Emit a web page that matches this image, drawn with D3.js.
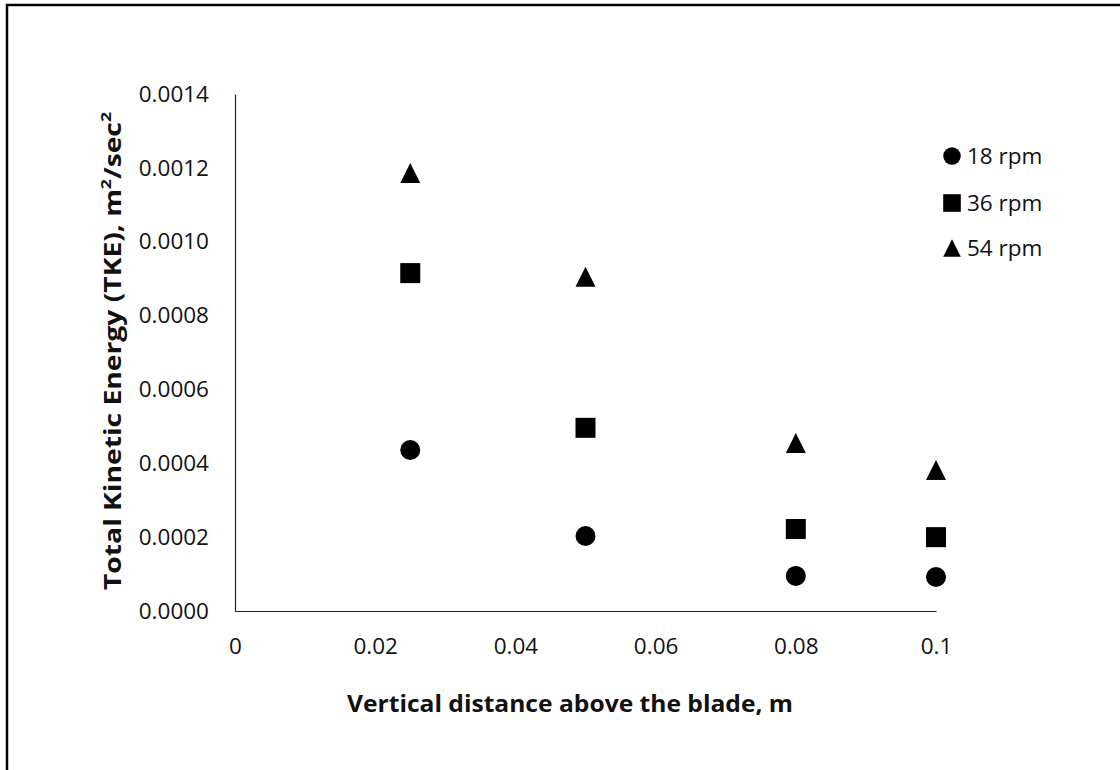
<!DOCTYPE html>
<html>
<head>
<meta charset="utf-8">
<script src="https://cdn.jsdelivr.net/npm/d3@7"></script>
<style>
  html, body { margin: 0; padding: 0; background: #fff; }
  svg { display: block; font-family: "Open Sans", sans-serif; }
</style>
</head>
<body>
<svg id="chart" width="1120" height="770"></svg>
<script>
// ---- data ----
const xValues = [0.025, 0.05, 0.08, 0.1];
const rpm18 = [0.000436, 0.000203, 0.000095, 0.000092];
const rpm36 = [0.000915, 0.000496, 0.000222, 0.000200];
const rpm54 = [0.001186, 0.000905, 0.000455, 0.000382];
const seriesNames = ["18 rpm", "36 rpm", "54 rpm"];
const xTicks = [0, 0.02, 0.04, 0.06, 0.08, 0.1];
const yTicks = [0, 0.0002, 0.0004, 0.0006, 0.0008, 0.0010, 0.0012, 0.0014];

const svg = d3.select("#chart");

// outer border
svg.append("rect")
  .attr("x", 7).attr("y", 5)
  .attr("width", 1125).attr("height", 790)
  .attr("fill", "none").attr("stroke", "#000").attr("stroke-width", 2.5);

const x = d3.scaleLinear().domain([0, 0.1]).range([235, 936]);
const y = d3.scaleLinear().domain([0, 0.0014]).range([611, 94]);

// custom triangle symbol
const triType = {
  draw(ctx, size) {
    const s = Math.sqrt(size);
    ctx.moveTo(0, -s / 2);
    ctx.lineTo(s / 2, s / 2);
    ctx.lineTo(-s / 2, s / 2);
    ctx.closePath();
  }
};
const shapes = [d3.symbolCircle, d3.symbolSquare, triType];
const sizes = [314, 400, 400];
const legendSizes = [240, 310, 310];

// axes
const xAxis = d3.axisBottom(x).tickValues(xTicks).tickSize(0).tickPadding(27)
  .tickFormat(d => d === 0 ? "0" : String(+d.toFixed(2)));
const yAxis = d3.axisLeft(y).tickValues(yTicks).tickSize(0).tickPadding(26)
  .tickFormat(d3.format(".4f"));

const gx = svg.append("g").attr("transform", `translate(0,${y(0)})`).call(xAxis);
const gy = svg.append("g").attr("transform", `translate(${x(0)},0)`).call(yAxis);
[gx, gy].forEach(g => {
  g.select(".domain").attr("stroke", "#222").attr("stroke-width", 1.2);
  g.selectAll("text").attr("font-size", 22.5).attr("fill", "#111")
    .attr("font-family", "'Open Sans', sans-serif");
});
gx.selectAll("text").attr("dy", "0.71em");

// points
const all = [rpm18, rpm36, rpm54];
all.forEach((vals, i) => {
  svg.append("g").selectAll("path")
    .data(vals.map((v, j) => [xValues[j], v]))
    .join("path")
    .attr("transform", d => `translate(${x(d[0])},${y(d[1])})`)
    .attr("d", d3.symbol(shapes[i], sizes[i]))
    .attr("fill", "#000");
});

// legend
const legY = [156, 203, 248];
seriesNames.forEach((name, i) => {
  svg.append("path")
    .attr("transform", `translate(952,${legY[i]})`)
    .attr("d", d3.symbol(shapes[i], legendSizes[i]))
    .attr("fill", "#000");
  svg.append("text")
    .attr("x", 967).attr("y", legY[i]).attr("dy", "0.36em")
    .attr("font-size", 22.5).attr("fill", "#111")
    .text(name);
});

// axis titles
svg.append("text")
  .attr("x", 570).attr("y", 712)
  .attr("text-anchor", "middle")
  .attr("font-size", 24).attr("font-weight", "bold").attr("fill", "#111")
  .attr("textLength", 446).attr("lengthAdjust", "spacingAndGlyphs")
  .text("Vertical distance above the blade, m");

const yt = svg.append("text")
  .attr("transform", "translate(121,351) rotate(-90)")
  .attr("text-anchor", "middle")
  .attr("font-size", 24).attr("font-weight", "bold").attr("fill", "#111")
  .attr("textLength", 478).attr("lengthAdjust", "spacingAndGlyphs");
yt.append("tspan").text("Total Kinetic Energy (TKE), m");
yt.append("tspan").attr("baseline-shift", "super").attr("font-size", 15).text("2");
yt.append("tspan").text("/sec");
yt.append("tspan").attr("baseline-shift", "super").attr("font-size", 15).text("2");
</script>
</body>
</html>
